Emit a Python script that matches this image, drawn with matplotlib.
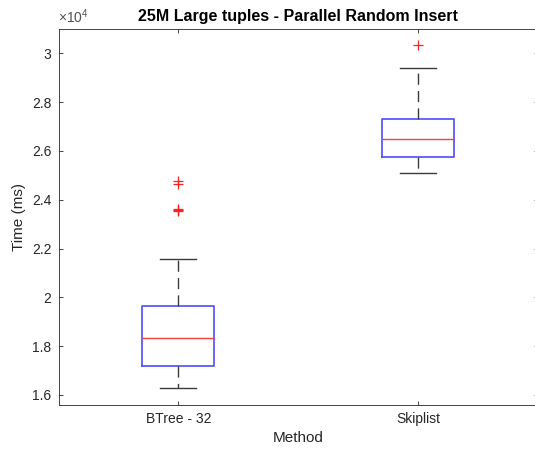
import matplotlib
matplotlib.use("Agg")
import matplotlib.pyplot as plt
from matplotlib.ticker import FuncFormatter

plt.rcParams['font.family'] = ['Liberation Sans', 'DejaVu Sans']
plt.rcParams['mathtext.fontset'] = 'custom'
plt.rcParams['mathtext.rm'] = 'Liberation Sans'
plt.rcParams['mathtext.it'] = 'Liberation Sans:italic'

# ---- data (ms) ----
categories = ['BTree - 32', 'Skiplist']
q1 = [17184, 25743]
med = [18327, 26502]
q3 = [19633, 27294]
whislo = [16298, 25090]
whishi = [21580, 29416]
fliers_btree = [24785, 24651, 23634, 23600, 23524]
fliers_skiplist = [30327]
yticks = [16000, 18000, 20000, 22000, 24000, 26000, 28000, 30000]

fliers = [fliers_btree, fliers_skiplist]
stats = []
for i, name in enumerate(categories):
    stats.append(dict(label=name, q1=q1[i], med=med[i], q3=q3[i],
                      whislo=whislo[i], whishi=whishi[i], fliers=fliers[i]))

fig = plt.figure(figsize=(5.35, 4.54), dpi=100)
ax = fig.add_axes([58.5 / 535, 49.3 / 454, 479.5 / 535, 375.7 / 454])

gray = '#262626'
ax.bxp(stats, positions=[1, 2], widths=0.3, showfliers=True,
       boxprops=dict(color='#4d4dff', linewidth=1.2),
       medianprops=dict(color='#ff3b3b', linewidth=1.0),
       whiskerprops=dict(color='#3a3a3a', linewidth=1.0, linestyle=(0, (8.0, 4.5))),
       capprops=dict(color='#3a3a3a', linewidth=1.0),
       flierprops=dict(marker='+', color='red', markeredgecolor='#ff2020',
                       markersize=7, markeredgewidth=0.9, linestyle='none'))

ax.set_xlim(0.5, 2.5)
ax.set_ylim(15600, 31000)
ax.set_xticks([1, 2])
ax.set_xticklabels(categories)
ax.set_yticks(yticks)
ax.yaxis.set_major_formatter(FuncFormatter(lambda v, p: '%g' % (v / 1e4)))

for s in ax.spines.values():
    s.set_color(gray)
    s.set_linewidth(0.6)
ax.tick_params(direction='in', length=3, width=0.6, colors=gray,
               top=True, right=True, labelsize=10, pad=5)

ax.text(0.0, 1.008, r'$\times10^{4}$', transform=ax.transAxes, ha='left', va='bottom',
        fontsize=10, color='#505050')

ax.set_title('25M Large tuples - Parallel Random Insert', fontsize=11.5,
             fontweight='bold', pad=6)
ax.set_xlabel('Method', fontsize=11, color=gray, labelpad=4)
ax.set_ylabel('Time (ms)', fontsize=11, color=gray, labelpad=4)

fig.savefig('out.png', dpi=100)
